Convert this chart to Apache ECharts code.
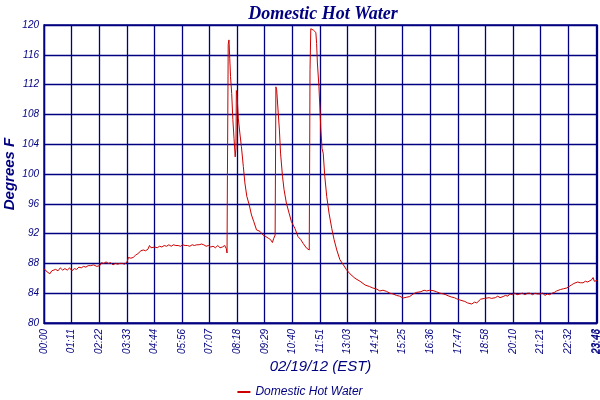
<!DOCTYPE html>
<html lang="en">
<head>
    <meta charset="UTF-8">
    <title>Domestic Hot Water</title>
    <style>
        html,body{
            margin: 0;
            width: 100%;
            height: 100%;
            background: #fff;
        }
        #chart{
            width: 600px;
            height: 400px;
        }
    </style>
</head>
<body>
<div id="chart"></div>
<script src="https://cdn.jsdelivr.net/npm/echarts@6/dist/echarts.min.js"></script>
<script type="text/javascript">
    // minutes since midnight, 02/19/12
    var minutes = [
        0, 5, 10, 15, 20, 25, 30, 36, 42, 48, 54, 60, 66, 72, 78, 84, 90, 96, 102, 108,
        114, 120, 128, 136, 144, 148, 154, 160, 166, 172, 178, 184, 190, 196, 202, 208, 214, 218, 224, 230,
        236, 242, 246, 250, 256, 262, 268, 272, 276, 280, 286, 292, 298, 304, 310, 316, 322, 328, 334, 340,
        346, 352, 358, 364, 370, 376, 382, 388, 394, 400, 406, 412, 418, 424, 430, 436, 442, 448, 454, 460,
        466, 470, 472,
        473, 475, 477, 479, 481, 484, 487, 490, 493, 495, 496, 498, 501, 505, 509, 514, 518, 523, 529, 535,
        541, 548, 557, 565, 572, 578, 584, 589, 592, 596,
        598, 600, 604, 607, 610, 615, 619, 625, 632, 638, 647, 655, 662, 668, 677, 682, 684,
        686, 688, 692, 695, 698, 701, 703, 705, 709, 712, 714, 717, 720, 724, 729, 735, 742, 748, 755, 763,
        772, 780, 789, 802, 815, 828, 839,
        848, 858, 866, 874, 883, 892, 900, 909, 917, 926, 934, 943, 952, 960, 965, 972, 980, 987, 995, 1003,
        1012, 1021, 1030, 1036, 1042, 1050, 1058, 1064, 1072, 1078, 1085, 1092, 1097, 1103, 1110, 1116, 1120, 1126, 1131, 1136,
        1141, 1148, 1154, 1158, 1164, 1170, 1176, 1184, 1190, 1196, 1201, 1208, 1214, 1220, 1227, 1234, 1240, 1247, 1253, 1260,
        1266, 1272, 1279, 1286, 1292, 1298, 1304, 1310, 1316, 1322, 1326, 1332, 1340, 1348, 1354, 1360, 1366, 1369, 1376, 1383,
        1390, 1396, 1402, 1407, 1412, 1416, 1419, 1423, 1426
    ];
    // degrees F
    var temps = [
        87.3, 87.0, 86.9, 86.6, 87.0, 86.8, 87.2, 87.0, 87.4, 87.1, 87.3, 87.1, 87.4, 87.0, 87.3, 87.2, 87.5, 87.4, 87.6, 87.5,
        87.7, 87.7, 87.8, 87.6, 87.7, 88.1, 88.0, 88.2, 88.0, 88.1, 87.8, 88.0, 87.9, 88.0, 88.0, 87.9, 88.2, 88.8, 88.7, 88.8,
        89.1, 89.3, 89.2, 89.7, 89.8, 89.7, 89.9, 90.4, 90.1, 90.0, 90.2, 90.1, 90.3, 90.2, 90.4, 90.3, 90.5, 90.3, 90.5, 90.4,
        90.4, 90.3, 90.5, 90.4, 90.4, 90.3, 90.5, 90.4, 90.5, 90.5, 90.6, 90.5, 90.3, 90.4, 90.2, 90.3, 90.1, 90.4, 90.1, 90.2,
        90.4, 90.0, 89.4,
        99.8, 117.4, 118.0, 115.5, 113.1, 110.8, 107.3, 104.8, 102.3, 103.5, 111.2, 110.5, 107.5, 105.5, 103.7, 101.0, 98.8, 97.0, 95.9, 94.5,
        93.6, 92.5, 92.3, 91.8, 91.6, 91.4, 91.2, 90.8, 91.3, 91.8,
        111.7, 111.3, 108.2, 105.9, 102.8, 99.7, 97.9, 96.1, 94.75, 93.6, 92.7, 91.6, 91.2, 90.7, 90.05, 90.2, 89.8,
        114.0, 119.5, 119.5, 119.3, 119.5, 119.0, 117.5, 114.9, 111.7, 108.2, 105.9, 103.4, 102.8, 99.7, 97.0, 94.75, 92.7, 91.2, 89.8, 88.5,
        87.8, 87.15, 86.6, 86.0, 85.6, 85.1, 84.9,
        84.7, 84.55, 84.3, 84.4, 84.25, 84.0, 83.9, 83.7, 83.6, 83.35, 83.45, 83.55, 83.9, 84.1, 84.25, 84.2, 84.4, 84.3, 84.4, 84.35,
        84.2, 84.0, 83.9, 83.8, 83.65, 83.5, 83.4, 83.25, 83.1, 83.0, 82.9, 82.7, 82.8, 82.55, 82.8, 82.7, 82.9, 83.2, 83.45, 83.3,
        83.2, 83.4, 83.3, 83.45, 83.4, 83.6, 83.4, 83.55, 83.7, 83.6, 83.9, 83.8, 84.0, 83.8, 83.9, 84.0, 83.8, 84.0, 84.0, 83.8,
        84.0, 83.9, 83.9, 84.0, 83.7, 83.9, 83.8, 84.0, 84.1, 84.3, 84.25, 84.5, 84.6, 84.7, 84.9, 85.1, 85.3, 85.45, 85.5, 85.4,
        85.4, 85.6, 85.5, 85.7, 85.8, 86.1, 85.6, 85.8, 85.7
    ];
    var xTickLabels = ['00:00', '01:11', '02:22', '03:33', '04:44', '05:56', '07:07', '08:18', '09:29', '10:40',
        '11:51', '13:03', '14:14', '15:25', '16:36', '17:47', '18:58', '20:10', '21:21', '22:32', '23:43'];
    var xEndLabel = '23:46';
    var xEnd = 1426;
    var xStep = 1423 / 20;

    var navy = '#000080';
    var labelFont = {
        color: navy,
        fontStyle: 'italic',
        fontFamily: 'Liberation Sans',
        fontSize: 10
    };

    function initChart(id) {
        var myChart = echarts.init(document.getElementById(id), null, {renderer: 'canvas'});
        var points = [];
        for (var i = 0; i < minutes.length; i++) {
            points.push([minutes[i], temps[i]]);
        }
        var option = {
            backgroundColor: '#fff',
            animation: false,
            title: {
                text: 'Domestic Hot Water',
                left: 318,
                textAlign: 'center',
                top: 0,
                textStyle: {
                    color: navy,
                    fontFamily: 'Liberation Serif',
                    fontStyle: 'italic',
                    fontWeight: 'bold',
                    fontSize: 18
                }
            },
            grid: {
                left: 44,
                right: 3,
                top: 25,
                bottom: 77,
                outerBoundsMode: 'none',
                containLabel: false,
                show: true,
                borderColor: navy,
                borderWidth: 1.3
            },
            legend: {
                top: 381,
                left: 'center',
                icon: 'rect',
                itemWidth: 13,
                itemHeight: 2,
                itemGap: 4,
                textStyle: {
                    color: navy,
                    fontStyle: 'italic',
                    fontFamily: 'Liberation Sans',
                    fontSize: 12
                },
                data: ['Domestic Hot Water']
            },
            xAxis: [
                {
                    type: 'value',
                    min: 0,
                    max: xEnd,
                    interval: xStep,
                    name: '02/19/12 (EST)',
                    nameLocation: 'middle',
                    nameGap: 36,
                    nameMoveOverlap: false,
                    nameTextStyle: {
                        color: navy,
                        fontStyle: 'italic',
                        fontFamily: 'Liberation Sans',
                        fontSize: 15
                    },
                    axisLine: {lineStyle: {color: navy, width: 1.3}},
                    axisTick: {show: false},
                    splitLine: {lineStyle: {color: navy, width: 1.3}},
                    axisLabel: Object.assign({
                        rotate: 90,
                        margin: 6,
                        showMinLabel: true,
                        showMaxLabel: false,
                        formatter: function (v) {
                            if (v >= xEnd) return '';
                            return xTickLabels[Math.round(v / xStep)] || '';
                        }
                    }, labelFont)
                },
                {
                    // second axis only carries the end-of-data label
                    type: 'value',
                    position: 'bottom',
                    min: 0,
                    max: xEnd,
                    interval: xStep,
                    axisLine: {show: false},
                    axisTick: {show: false},
                    splitLine: {show: false},
                    axisLabel: Object.assign({
                        rotate: 90,
                        margin: 6,
                        showMinLabel: false,
                        showMaxLabel: true,
                        formatter: function (v) {
                            return v >= xEnd ? xEndLabel : '';
                        }
                    }, labelFont)
                }
            ],
            yAxis: {
                type: 'value',
                min: 80,
                max: 120,
                interval: 4,
                name: 'Degrees F',
                nameLocation: 'middle',
                nameGap: 27,
                nameMoveOverlap: false,
                nameTextStyle: {
                    color: navy,
                    fontStyle: 'italic',
                    fontWeight: 'bold',
                    fontFamily: 'Liberation Sans',
                    fontSize: 15
                },
                axisLine: {show: true, lineStyle: {color: navy, width: 1.3}},
                axisTick: {show: false},
                splitLine: {lineStyle: {color: navy, width: 1.3}},
                axisLabel: Object.assign({margin: 5}, labelFont)
            },
            series: [
                {
                    name: 'Domestic Hot Water',
                    type: 'line',
                    data: points,
                    showSymbol: false,
                    symbol: 'none',
                    itemStyle: {color: '#cc0000'},
                    lineStyle: {color: '#cc0000', width: 1}
                }
            ]
        };
        myChart.setOption(option, true);
    }

    initChart('chart');
</script>
</body>
</html>
